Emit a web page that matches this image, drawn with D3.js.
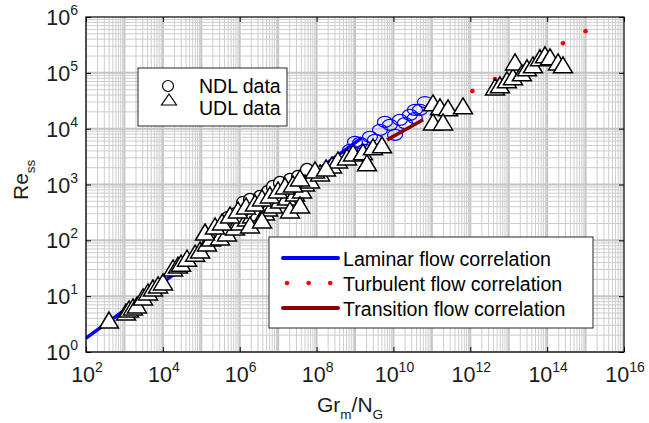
<!DOCTYPE html>
<html><head><meta charset="utf-8">
<script src="https://cdn.jsdelivr.net/npm/d3@7"></script>
<style>
body{margin:0;background:#fff}
svg{display:block;font-family:Arial,"Liberation Sans",sans-serif}
</style>
</head><body>
<svg id="c" width="649" height="423"></svg>
<script>
// ---- data ----
const xTickExponents = [2, 4, 6, 8, 10, 12, 14, 16];
const yTickExponents = [0, 1, 2, 3, 4, 5, 6];

// UDL data (triangles): Gr_m/N_G and Re_ss
const udlG = [3.96e2, 1.1e3, 1.32e3, 1.67e3, 2.12e3, 3.04e3, 4.1e3, 5.5e3, 7.5e3, 1.01e4,
  1.84e4, 2.48e4, 2.97e4, 4.25e4, 6.9e4, 9.3e4, 1.41e5, 1.79e5, 3.07e5, 4.67e5,
  7.5e5, 1.02e6, 1.55e6, 2.09e6, 2.99e6, 4.55e6, 5.45e6, 7.3e6, 1.12e7, 1.7e7,
  2.74e7, 4.18e7, 5.0e7, 6.75e7, 1.23e8, 2.52e8, 3.6e8, 6.2e8, 8.9e8, 1.61e9,
  2.05e9, 2.94e9, 5.04e9,
  1.25e5, 2.28e5, 3.46e5, 5.6e5, 9.0e5, 1.46e6, 2.5e6, 3.8e6, 6.1e6, 9.9e6,
  1.51e7, 2.43e7, 3.7e7, 9.1e7, 1.76e8, 1.85e6, 3.8e6, 2.03e7, 3.7e7,
  1.07e11, 1.63e11, 2.63e11, 6.46e11, 1.07e11, 1.95e11, 4.4e12,
  5.9e12, 9.0e12, 1.29e13, 1.46e13, 2.21e13, 2.99e13, 4.28e13, 6.5e13, 8.8e13, 1.19e14,
  1.92e14, 2.58e14];
const udlRe = [3.74, 5.2, 5.9, 6.4, 6.95, 9.7, 11.9, 14.0, 15.9, 18.0,
  32, 36, 39, 48, 59, 67, 90, 110, 115, 136,
  174, 214, 252, 285, 310, 323, 381, 431, 530, 600,
  707, 800, 1069, 1210, 1614, 2245, 2760, 3124, 3680, 3840,
  2440, 4720, 5130,
  141, 181, 214, 285, 351, 413, 468, 575, 651, 800,
  944, 1024, 1312, 1827, 1983, 189, 232, 351, 431,
  2.9e4, 2.46e4, 2.36e4, 2.56e4, 1.32e4, 1.32e4, 5.6e4,
  6.1e4, 7.5e4, 8.5e4, 1.57e5, 1.0e5, 1.23e5, 1.39e5, 1.86e5, 2.1e5, 1.94e5,
  1.57e5, 1.39e5];

// NDL data (circles, black)
const ndlG = [4.96e5, 8.0e5, 1.22e6, 1.85e6, 3.37e6, 5.45e6, 7.35e6, 1.12e7, 2.03e7, 3.29e7, 5.64e7];
const ndlRe = [252, 297, 468, 530, 600, 737, 906, 1069, 1210, 1368, 1827];

// NDL data at high Gr (circles, blue)
const ndlHighG = [7.4e8, 1.0e9, 1.82e9, 1.35e9, 2.45e9, 3.31e9, 4.47e9, 6.0e9, 8.1e9, 1.1e10, 1.48e10, 2.0e10, 2.69e10, 3.6e10, 3.63e10, 4.9e10, 6.6e10];
const ndlHighRe = [4170, 5800, 4170, 5570, 7130, 6300, 9510, 1.32e4, 1.17e4, 7740, 1.44e4, 1.26e4, 1.77e4, 1.55e4, 2.17e4, 2.17e4, 3.0e4];

// correlations
const laminarG = [1e2, 1.5e9];
const laminarRe = [1.77, 6850];
const turbulentG = [1e15, 3e11];
const turbulentRe = [5.57e5, 2.92e4];
const transitionG = [6.8e9, 5.9e10];
const transitionRe = [6300, 1.44e4];

const markerLegend = ["NDL data", "UDL data"];
const lineLegend = ["Laminar flow correlation", "Turbulent flow correlation", "Transition flow correlation"];

// ---- chart ----
const svg = d3.select("#c");
const L = 86, R = 624, T = 17, B = 352;
const x = d3.scaleLog().domain([1e2, 1e16]).range([L, R]);
const y = d3.scaleLog().domain([1, 1e6]).range([B, T]);

svg.append("rect").attr("x", L).attr("y", T).attr("width", R - L).attr("height", B - T).attr("fill", "#fff");

// grid
const grid = svg.append("g");
for (let d = 2; d < 16; d++) {
  for (let k = 1; k <= 9; k++) {
    const px = x(k * Math.pow(10, d));
    grid.append("line").attr("x1", px).attr("x2", px).attr("y1", T).attr("y2", B)
      .attr("stroke", k === 1 ? "#c4c4c4" : "#cdcdcd").attr("stroke-width", k === 1 ? 2 : 1);
  }
}
for (let d = 0; d < 6; d++) {
  for (let k = 1; k <= 9; k++) {
    const py = y(k * Math.pow(10, d));
    grid.append("line").attr("x1", L).attr("x2", R).attr("y1", py).attr("y2", py)
      .attr("stroke", k === 1 ? "#c4c4c4" : "#cdcdcd").attr("stroke-width", k === 1 ? 2 : 1);
  }
}

const line = d3.line().x(d => x(d[0])).y(d => y(d[1]));
svg.append("clipPath").attr("id", "pc").append("rect")
  .attr("x", L).attr("y", T).attr("width", R - L).attr("height", B - T);
const plot = svg.append("g").attr("clip-path", "url(#pc)");

// black circles
plot.selectAll(".ndl").data(d3.zip(ndlG, ndlRe)).join("circle")
  .attr("cx", d => x(d[0])).attr("cy", d => y(d[1])).attr("r", 6.5)
  .attr("fill", "#fff").attr("stroke", "#000").attr("stroke-width", 1.3);
// blue circles
plot.selectAll(".ndlh").data(d3.zip(ndlHighG, ndlHighRe)).join("ellipse")
  .attr("cx", d => x(d[0])).attr("cy", d => y(d[1])).attr("rx", 7.5).attr("ry", 5.5)
  .attr("fill", "none").attr("stroke", "#0000ff").attr("stroke-width", 1.2);

// correlation lines
plot.append("path").attr("d", line(d3.zip(laminarG, laminarRe)))
  .attr("stroke", "#0000ff").attr("stroke-width", 3.5).attr("fill", "none");
plot.append("path").attr("d", line(d3.zip(transitionG, transitionRe)))
  .attr("stroke", "#8b0000").attr("stroke-width", 3.5).attr("fill", "none");
plot.append("path").attr("d", line(d3.zip(turbulentG, turbulentRe)))
  .attr("stroke", "#ff0000").attr("stroke-width", 4.5).attr("fill", "none")
  .attr("stroke-linecap", "round").attr("stroke-dasharray", "0.1 25.5");

// triangles
const tri = "M0,-8L9.5,8L-9.5,8Z";
plot.selectAll(".udl").data(d3.zip(udlG, udlRe)).join("path")
  .attr("d", tri).attr("transform", d => `translate(${x(d[0])},${y(d[1])})`)
  .attr("fill", "#fff").attr("stroke", "#000").attr("stroke-width", 1.5).attr("stroke-linejoin", "miter");

// axes (ticks inward)
const xv = xTickExponents.map(e => Math.pow(10, e));
const yv = yTickExponents.map(e => Math.pow(10, e));
[[d3.axisBottom(x).tickValues(xv), `translate(0,${B})`],
 [d3.axisTop(x).tickValues(xv), `translate(0,${T})`],
 [d3.axisLeft(y).tickValues(yv), `translate(${L},0)`],
 [d3.axisRight(y).tickValues(yv), `translate(${R},0)`]].forEach(([ax, tr]) => {
  const g = svg.append("g").attr("transform", tr).call(ax.tickSizeInner(-5).tickSizeOuter(0).tickFormat(""));
  g.select(".domain").remove();
  g.selectAll("line").attr("stroke", "#000");
});
svg.append("rect").attr("x", L).attr("y", T).attr("width", R - L).attr("height", B - T)
  .attr("fill", "none").attr("stroke", "#000").attr("stroke-width", 1.2);

// tick labels
xTickExponents.forEach(e => {
  const t = svg.append("text").attr("x", x(Math.pow(10, e)) + 1).attr("y", B + 30)
    .attr("text-anchor", "middle").attr("font-size", 21.5).attr("fill", "#1a1a1a");
  t.append("tspan").text("10");
  t.append("tspan").attr("dy", -10).attr("font-size", 14).text(e);
});
yTickExponents.forEach(e => {
  const t = svg.append("text").attr("x", L - 8).attr("y", y(Math.pow(10, e)) + 8)
    .attr("text-anchor", "end").attr("font-size", 21.5).attr("fill", "#1a1a1a");
  t.append("tspan").text("10");
  t.append("tspan").attr("dy", -10).attr("font-size", 14).text(e);
});

// axis titles
const xt = svg.append("text").attr("x", 317).attr("y", 412).attr("font-size", 21).attr("fill", "#1a1a1a");
xt.append("tspan").text("Gr");
xt.append("tspan").attr("dy", 7).attr("font-size", 13.5).text("m");
xt.append("tspan").attr("dy", -7).text("/N");
xt.append("tspan").attr("dy", 7).attr("font-size", 13.5).text("G");
const yt = svg.append("text").attr("transform", "translate(28,200) rotate(-90)").attr("font-size", 21).attr("fill", "#1a1a1a");
yt.append("tspan").text("Re");
yt.append("tspan").attr("dy", 7).attr("font-size", 13.5).text("ss");

// marker legend
const lg1 = svg.append("g");
lg1.append("rect").attr("x", 138).attr("y", 68).attr("width", 149).attr("height", 58)
  .attr("fill", "#fff").attr("stroke", "#262626").attr("stroke-width", 1);
lg1.append("circle").attr("cx", 168).attr("cy", 86).attr("r", 5.5).attr("fill", "none").attr("stroke", "#000").attr("stroke-width", 1.2);
lg1.append("path").attr("d", "M0,-5.5L7.5,5.5L-7.5,5.5Z").attr("transform", "translate(169,99.5)")
  .attr("fill", "none").attr("stroke", "#000").attr("stroke-width", 1.2);
markerLegend.forEach((s, i) => {
  lg1.append("text").attr("x", 199).attr("y", 93 + i * 22).attr("font-size", 19.5).attr("fill", "#000").text(s);
});

// line legend
const lg2 = svg.append("g");
lg2.append("rect").attr("x", 269).attr("y", 237).attr("width", 324).attr("height", 91)
  .attr("fill", "#fff").attr("stroke", "#262626").attr("stroke-width", 1);
const legStyles = [
  {c: "#0000ff", w: 4, dash: null},
  {c: "#ff0000", w: 4.5, dash: "0.1 21.5"},
  {c: "#8b0000", w: 4, dash: null}
];
lineLegend.forEach((s, i) => {
  const yy = 258 + i * 25;
  const st = legStyles[i];
  const ln = lg2.append("line").attr("x1", st.dash ? 287 : 283).attr("x2", 338).attr("y1", yy).attr("y2", yy)
    .attr("stroke", st.c).attr("stroke-width", st.w).attr("stroke-linecap", "round");
  if (st.dash) ln.attr("stroke-dasharray", st.dash);
  lg2.append("text").attr("x", 343).attr("y", yy + 7.5).attr("font-size", 19.6).attr("fill", "#000").text(s);
});
</script>
</body></html>
